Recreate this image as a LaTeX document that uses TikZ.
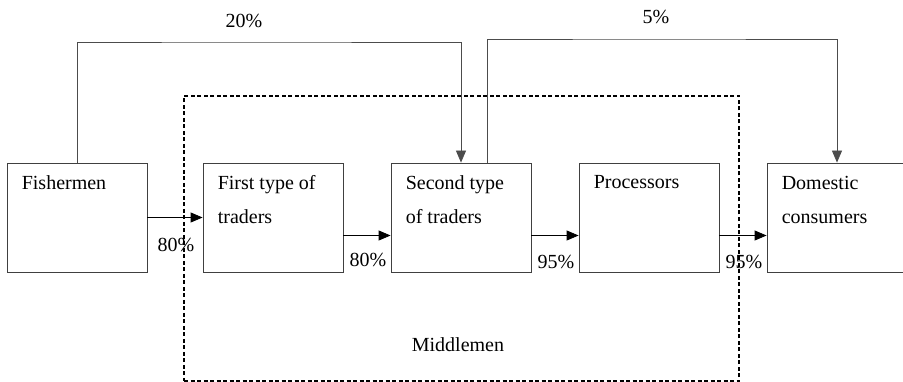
\documentclass[tikz,border=0pt]{standalone}
\usepackage{fontspec}
\setmainfont{Liberation Serif}
\usetikzlibrary{arrows.meta}
\begin{document}
\begin{tikzpicture}[x=1pt,y=-1pt,
    font=\rmfamily\fontsize{20}{34}\selectfont,
    box/.style={draw=black!75, line width=0.8pt, minimum width=140pt, minimum height=109pt, inner sep=0pt},
    boxtext/.style={anchor=north west, align=left, inner sep=0pt, xshift=15pt, yshift=-13pt},
    arr/.style={-{Triangle[length=12pt,width=10pt]}, line width=0.8pt},
    pct/.style={anchor=base east, inner sep=0pt}]
    \useasboundingbox (0,0) rectangle (903,382);
    % middlemen frame
    \node[draw, dashed, dash pattern=on 4pt off 2.5pt, line width=1.2pt,
          minimum width=555pt, minimum height=285pt] (mid) at (461.5,238.5) {};
    \node[anchor=base, inner sep=0pt] (midtxt) at (458,352) {Middlemen};
    % actors
    \node[box, label={[boxtext]north west:Fishermen}] (fish) at (77,217.5) {};
    \node[box, label={[boxtext]north west:First type of\\traders}] (first) at (273,217.5) {};
    \node[box, label={[boxtext]north west:Second type\\of traders}] (sec) at (461,217.5) {};
    \node[box, label={[boxtext]north west:Processors}] (proc) at (649,217.5) {};
    \node[box, label={[boxtext]north west:Domestic\\consumers}] (dom) at (837,217.5) {};
    % main flow
    \draw[arr] (fish.east) -- (first.west) node[pct, xshift=-8pt, yshift=-34pt] {80\%};
    \draw[arr] ([yshift=-18pt]first.east) -- ([yshift=-18pt]sec.west) node[pct, xshift=-4pt, yshift=-31pt] {80\%};
    \draw[arr] ([yshift=-18pt]sec.east) -- ([yshift=-18pt]proc.west) node[pct, xshift=-4pt, yshift=-33pt] {95\%};
    \draw[arr] ([yshift=-18pt]proc.east) -- ([yshift=-18pt]dom.west) node[pct, xshift=-4pt, yshift=-33pt] {95\%};
    % bypass flows
    \draw[arr, draw=black!70] (fish.north) |- (244,42) node[anchor=base, inner sep=0pt, yshift=14pt] {20\%} -| (sec.north);
    \draw[arr, draw=black!70] ([xshift=26pt]sec.north) |- (656,39) node[anchor=base, inner sep=0pt, yshift=15pt] {5\%} -| (dom.north);
\end{tikzpicture}
\end{document}
